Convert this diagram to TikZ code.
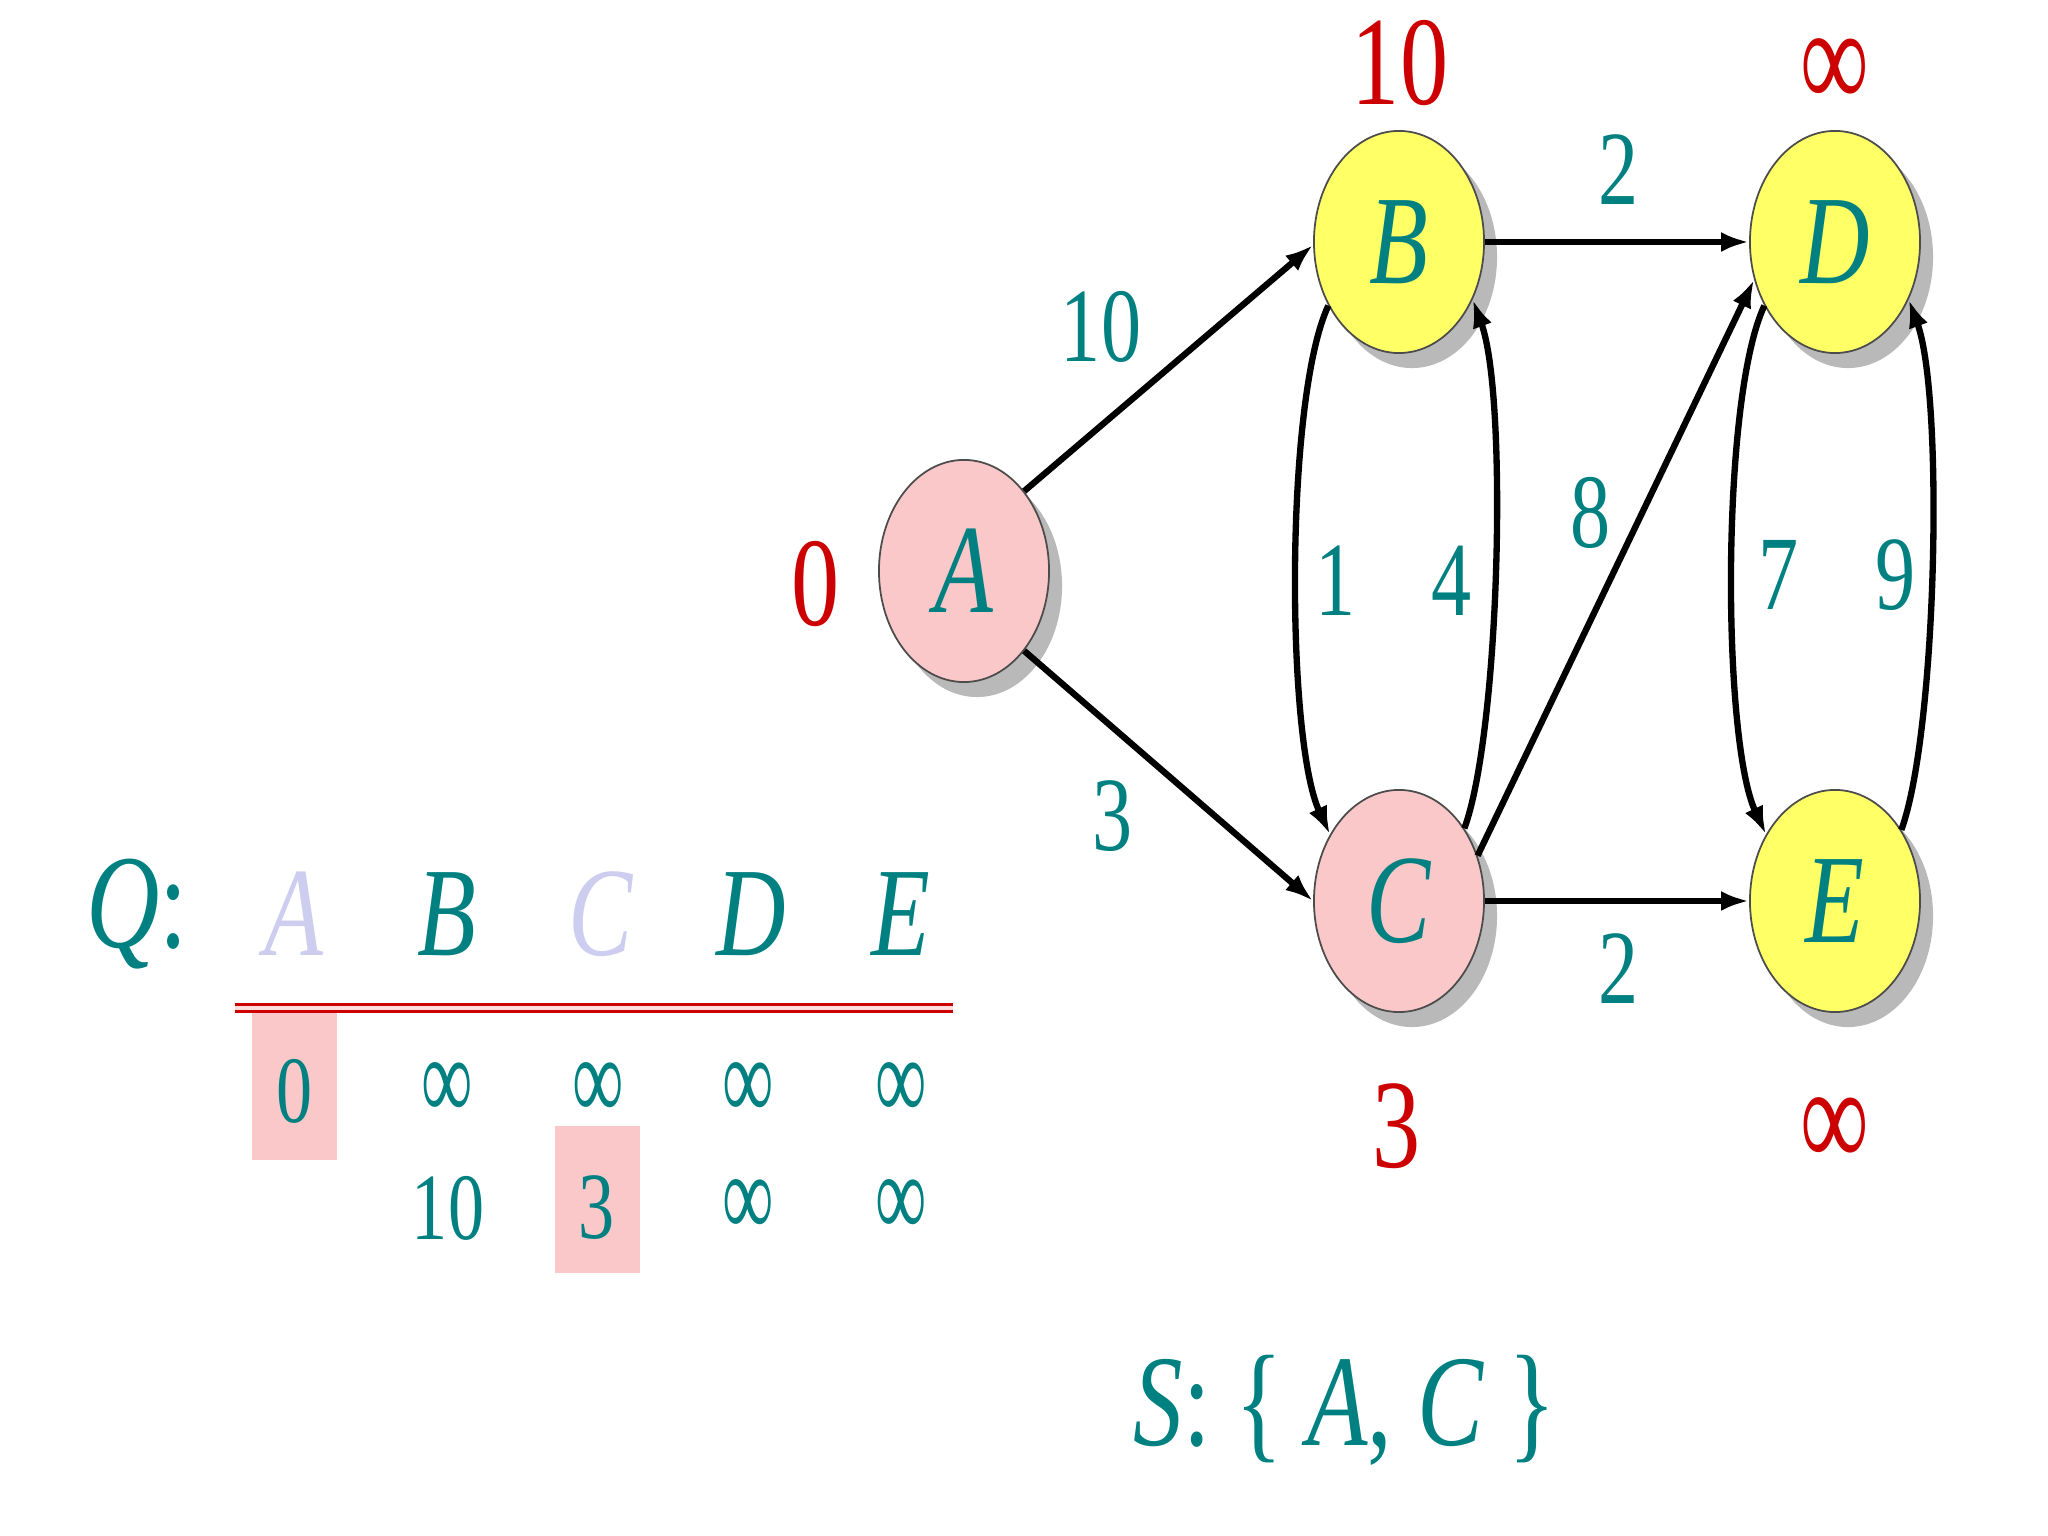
\documentclass[tikz,border=0pt]{standalone}
\usepackage{fontspec}
\setmainfont{Liberation Serif}[FakeStretch=0.76]
\usepackage{tikz}
\usetikzlibrary{shapes.geometric,arrows.meta,shadows}
\definecolor{qteal}{RGB}{0,128,128}
\definecolor{dred}{RGB}{204,0,0}
\definecolor{vpink}{RGB}{250,200,200}
\definecolor{vyellow}{RGB}{255,255,102}
\definecolor{qdone}{RGB}{205,205,240}
\newcommand{\infsym}[1][1.25]{\scalebox{1}[#1]{∞}}

\begin{document}
\begin{tikzpicture}[x=0.01cm, y=0.01cm,
    vertex/.style={ellipse, draw=black!70, line width=0.5pt, minimum width=1.7cm, minimum height=2.22cm, inner sep=0pt,
      font=\fontsize{36}{40}\selectfont\itshape, text=qteal,
      drop shadow={shadow xshift=0.13cm, shadow yshift=-0.15cm, fill=black!55}},
    edge/.style={-{Latex[length=0.28cm, width=0.2cm]}, line width=1.8pt},
    weight/.style={text=qteal, font=\fontsize{30}{32}\selectfont},
    dist/.style={text=dred, font=\fontsize{36}{40}\selectfont},
    qval/.style={text=qteal, font=\fontsize{27}{30}\selectfont}]
    \useasboundingbox (0,0) rectangle (2048,1536);

    \node[vertex, fill=vpink] (A) at (964,965) {A};
    \node[vertex, fill=vyellow] (B) at (1399,1294) {B};
    \node[vertex, fill=vpink] (C) at (1399,635) {C};
    \node[vertex, fill=vyellow] (D) at (1835,1294) {D};
    \node[vertex, fill=vyellow] (E) at (1835,635) {E};

    \draw[edge] (A.53) -- (B.182);
    \draw[edge] (A.-53) -- (C.180);
    \draw[edge] (B.east) -- (D.west);
    \draw[edge] (C.east) -- (E.west);
    \draw[edge] (C.30) -- (D.205);
    \draw[edge] (B.222) to[out=245, in=115, looseness=0.5] (C.136);
    \draw[edge] (C.48) to[out=70, in=-70, looseness=0.5] (B.-38);
    \draw[edge] (D.222) to[out=245, in=115, looseness=0.5] (E.136);
    \draw[edge] (E.47) to[out=70, in=-70, looseness=0.5] (D.-38);

    \foreach \n/\x/\y/\w in {wab/1101/1209/10, wac/1113/720/3, wbd/1619/1366/2, wce/1619/567/2,
      wbc/1336/955/1, wcb/1452/955/4, wcd/1591/1023/8, wde/1779/961/7, wed/1896/961/9}
      \node[weight] (\n) at (\x,\y) {\w};

    \foreach \n/\x/\y/\d in {dA/816/952/0, dB/1400/1473/10, dC/1397/410/3, dD/1835/1462/\infsym[1.15], dE/1835/403/\infsym[1.15]}
      \node[dist] (\n) at (\x,\y) {\d};

    \node[text=qteal, font=\fontsize{38}{40}\selectfont] (Q) at (137,622) {\textit{Q}:};
    \foreach \x/\n/\c in {294/A/qdone, 447/B/qteal, 601/C/qdone, 751/D/qteal, 901/E/qteal}
      \node[text=\c, font=\fontsize{36}{40}\selectfont\itshape] (q\n) at (\x,622) {\n};

    \fill[vpink] (252,376) rectangle (337,528);
    \fill[vpink] (555,263) rectangle (640,410);
    \draw[dred, line width=0.03cm, double=vpink!60, double distance=0.035cm] (235,528) -- (953,528);

    \foreach \x/\v [count=\i] in {295/0, 447/\infsym, 598/\infsym, 748/\infsym, 901/\infsym}
      \node[qval] (ra\i) at (\x,445) {\v};
    \foreach \x/\v [count=\i] in {448/10, 597/3, 748/\infsym, 901/\infsym}
      \node[qval] (rb\i) at (\x,328) {\v};

    \node[text=qteal, font=\fontsize{37}{40}\selectfont] (S) at (1345,126) {\textit{S}: \{ \textit{A}, \textit{C} \}};
\end{tikzpicture}
\end{document}
